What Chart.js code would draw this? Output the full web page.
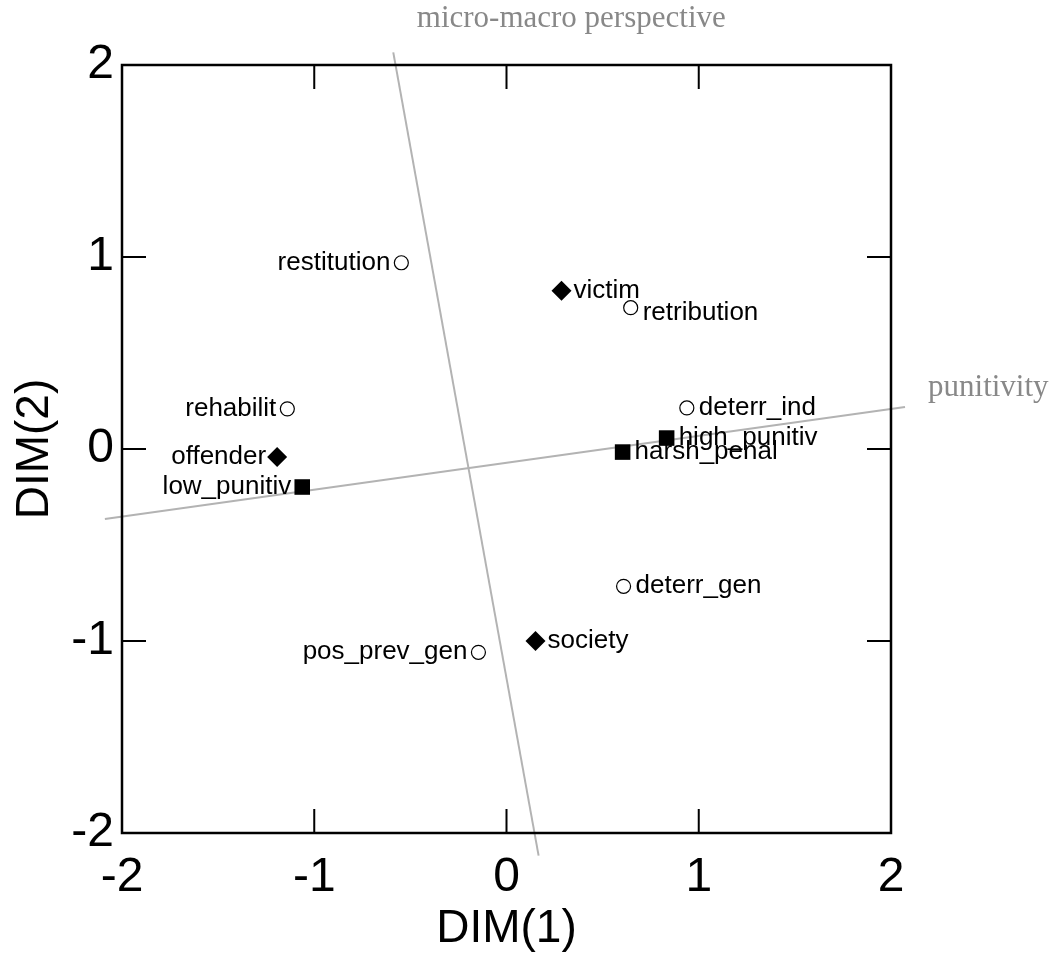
<!DOCTYPE html>
<html>
<head>
<meta charset="utf-8">
<script src="https://cdn.jsdelivr.net/npm/chart.js@4.4.0/dist/chart.umd.min.js"></script>
<style>
    html, body { margin: 0; padding: 0; background: #fff; }
    #wrap { width: 1058px; height: 960px; }
</style>
</head>
<body>
<div id="wrap"><canvas id="chart" width="1058" height="960"></canvas></div>
<script>
// Strafzwecke (offene Kreise)
const purposeLabels = ['restitution', 'retribution', 'rehabilit', 'deterr_ind', 'deterr_gen', 'pos_prev_gen'];
const purposeX = [-0.547, 0.646, -1.14, 0.938, 0.609, -0.146];
const purposeY = [0.970, 0.736, 0.209, 0.214, -0.715, -1.059];

// Akteure (Rauten)
const actorLabels = ['victim', 'offender', 'society'];
const actorX = [0.286, -1.193, 0.151];
const actorY = [0.824, -0.042, -1.0];

// Punitivität (Quadrate)
const punitLabels = ['high_punitiv', 'harsh_penal', 'low_punitiv'];
const punitX = [0.833, 0.604, -1.0625];
const punitY = [0.057, -0.016, -0.198];

// Interpretationsachsen (grau)
const microMacroX = [-0.589, 0.167];
const microMacroY = [2.066, -2.118];
const punitivityX = [-2.089, 2.073];
const punitivityY = [-0.365, 0.219];

const tickLabels = ['-2', '-1', '0', '1', '2'];

const FONT = 'Arial, "Liberation Sans", Helvetica, sans-serif';
const SERIF = '"Times New Roman", "Liberation Serif", Times, serif';

// Beschriftungen links vom Punkt, alle anderen rechts
const leftSide = new Set(['restitution', 'rehabilit', 'offender', 'low_punitiv', 'pos_prev_gen']);

const toPoints = (xs, ys) => xs.map((x, i) => ({ x, y: ys[i] }));

const frameTicks = {
    id: 'frameTicks',
    afterDatasetsDraw(chart) {
        const { ctx, chartArea: a, scales } = chart;
        ctx.save();
        ctx.strokeStyle = '#000';
        ctx.lineWidth = 2;
        const len = 24;
        tickLabels.forEach(t => {
            const v = Number(t);
            const px = scales.x.getPixelForValue(v);
            const py = scales.y.getPixelForValue(v);
            ctx.beginPath();
            ctx.moveTo(px, a.bottom); ctx.lineTo(px, a.bottom - len);
            ctx.moveTo(px, a.top); ctx.lineTo(px, a.top + len);
            ctx.moveTo(a.left, py); ctx.lineTo(a.left + len, py);
            ctx.moveTo(a.right, py); ctx.lineTo(a.right - len, py);
            ctx.stroke();
        });
        ctx.lineWidth = 2.5;
        ctx.strokeRect(a.left, a.top, a.right - a.left, a.bottom - a.top);
        ctx.restore();
    }
};

const pointLabels = {
    id: 'pointLabels',
    afterDatasetsDraw(chart) {
        const { ctx } = chart;
        ctx.save();
        ctx.font = '26px ' + FONT;
        ctx.fillStyle = '#000';
        ctx.textBaseline = 'middle';
        chart.data.datasets.forEach((ds, di) => {
            if (!ds.names) return;
            chart.getDatasetMeta(di).data.forEach((pt, i) => {
                const name = ds.names[i];
                if (leftSide.has(name)) {
                    ctx.textAlign = 'right';
                    ctx.fillText(name, pt.x - 11, pt.y);
                } else {
                    ctx.textAlign = 'left';
                    ctx.fillText(name, pt.x + 12, pt.y + (name === 'retribution' ? 5 : 0));
                }
            });
        });

        // Beschriftung der grauen Achsen
        const { x, y } = chart.scales;
        ctx.font = '31px ' + SERIF;
        ctx.fillStyle = '#888';
        ctx.textBaseline = 'alphabetic';
        ctx.textAlign = 'center';
        ctx.fillText('micro-macro perspective',
            x.getPixelForValue(microMacroX[0]) + 178, y.getPixelForValue(microMacroY[0]) - 25);
        ctx.textAlign = 'left';
        ctx.fillText('punitivity',
            x.getPixelForValue(punitivityX[1]) + 23, y.getPixelForValue(punitivityY[1]) - 11);
        ctx.restore();
    }
};

const grayLine = {
    type: 'line',
    borderColor: '#b3b3b3',
    borderWidth: 2,
    pointRadius: 0,
    fill: false,
    clip: false,
    order: 5
};

new Chart(document.getElementById('chart').getContext('2d'), {
    type: 'scatter',
    data: {
        datasets: [
            { ...grayLine, label: 'micro-macro perspective', data: toPoints(microMacroX, microMacroY) },
            { ...grayLine, label: 'punitivity', data: toPoints(punitivityX, punitivityY) },
            {
                label: 'purposes', names: purposeLabels, data: toPoints(purposeX, purposeY),
                pointStyle: 'circle', pointRadius: 7, borderWidth: 1.2,
                borderColor: '#000', backgroundColor: '#fff', order: 1
            },
            {
                label: 'actors', names: actorLabels, data: toPoints(actorX, actorY),
                pointStyle: 'rectRot', pointRadius: 10, borderWidth: 0,
                borderColor: '#000', backgroundColor: '#000', order: 1
            },
            {
                label: 'punitiveness', names: punitLabels, data: toPoints(punitX, punitY),
                pointStyle: 'rect', pointRadius: 11, borderWidth: 0,
                borderColor: '#000', backgroundColor: '#000', order: 1
            }
        ]
    },
    options: {
        responsive: false,
        animation: false,
        events: [],
        layout: { padding: { top: 65, right: 167, left: 0, bottom: 0 } },
        plugins: {
            legend: { display: false },
            tooltip: { enabled: false }
        },
        scales: {
            x: {
                type: 'linear', min: -2, max: 2,
                grid: { display: false, drawTicks: false },
                border: { display: false },
                afterFit: s => { s.height = 127; },
                ticks: {
                    stepSize: 1, padding: 16, color: '#000', maxRotation: 0,
                    font: { size: 48, family: FONT },
                    callback: v => tickLabels[tickLabels.indexOf(String(v))] ?? ''
                },
                title: {
                    display: true, text: 'DIM(1)', color: '#000',
                    font: { size: 46, family: FONT },
                    padding: { top: 0, bottom: 3 }
                }
            },
            y: {
                type: 'linear', min: -2, max: 2,
                grid: { display: false, drawTicks: false },
                border: { display: false },
                afterFit: s => { s.width = 122; },
                ticks: {
                    stepSize: 1, padding: 8, color: '#000',
                    font: { size: 48, family: FONT },
                    callback: v => tickLabels[tickLabels.indexOf(String(v))] ?? ''
                },
                title: {
                    display: true, text: 'DIM(2)', color: '#000',
                    font: { size: 46, family: FONT },
                    padding: { top: 8, bottom: 0 }
                }
            }
        }
    },
    plugins: [frameTicks, pointLabels]
});
</script>
</body>
</html>
